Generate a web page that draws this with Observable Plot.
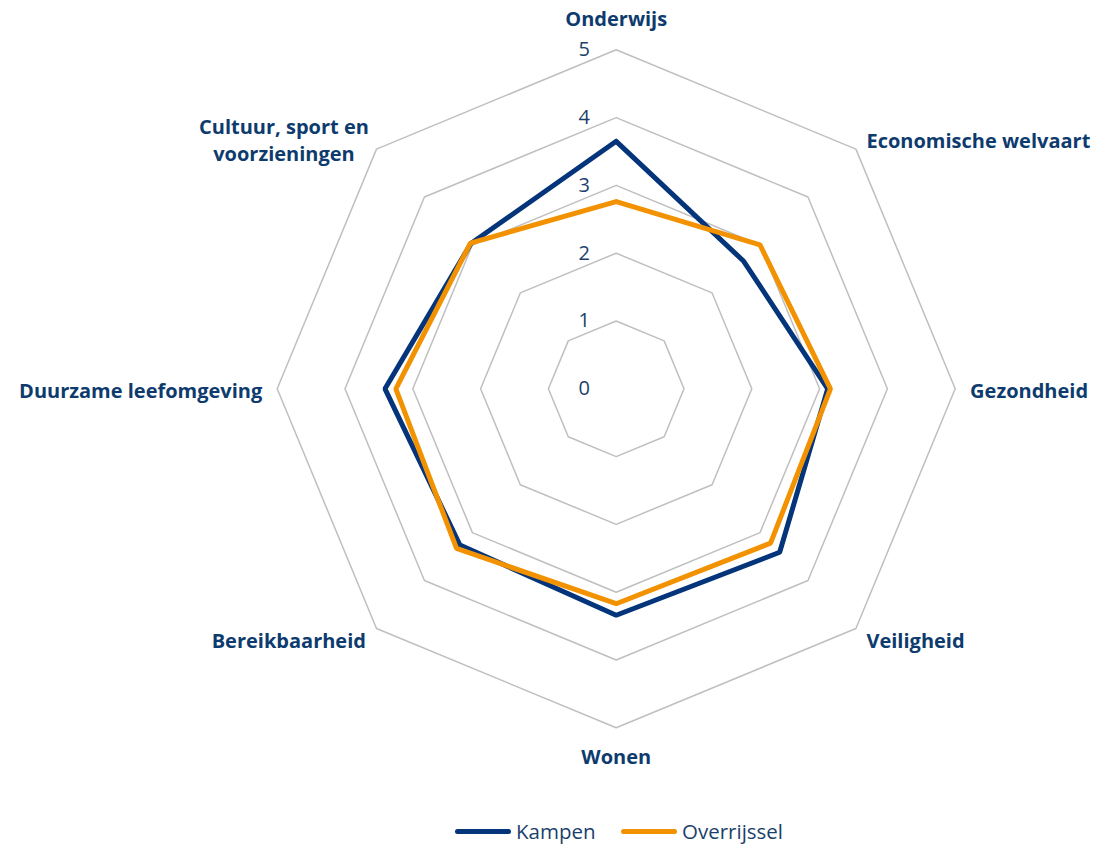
<!DOCTYPE html>
<html>
<head>
<meta charset="utf-8">
<script src="https://cdn.jsdelivr.net/npm/d3@7"></script>
<script src="https://cdn.jsdelivr.net/npm/@observablehq/plot@0.6"></script>
<style>
  body { margin: 0; background: #fff; font-family: "Open Sans", sans-serif; }
  #chart { width: 1113px; }
  .legend { display: flex; align-items: center; height: 50px; padding-left: 455px; font-size: 20.5px; color: #1b3f6b; }
  .legend .item { display: flex; align-items: center; width: 166px; }
  .legend .sw { display: inline-block; width: 56px; height: 5px; border-radius: 3px; margin-right: 5px; }
</style>
</head>
<body>
<div id="chart"></div>
<script>
const categories = ["Onderwijs", "Economische welvaart", "Gezondheid", "Veiligheid", "Wonen", "Bereikbaarheid", "Duurzame leefomgeving", "Cultuur, sport en\nvoorzieningen"];
const kampen = [3.65, 2.66, 3.12, 3.41, 3.34, 3.26, 3.41, 3.03];
const overijssel = [2.76, 3.00, 3.16, 3.22, 3.17, 3.33, 3.25, 3.04];
const seriesNames = ["Kampen", "Overrijssel"];
const seriesColors = ["#04347a", "#f39200"];
const tickValues = [0, 1, 2, 3, 4, 5];

const W = 1113, H = 806;
const cx = 615.7, cy = 388.3, unit = 67.8;
const n = categories.length;
const ang = i => (i / n) * 2 * Math.PI;
const px = (r, i) => r * Math.sin(ang(i));
const py = (r, i) => r * Math.cos(ang(i));

const rings = [];
for (const t of tickValues.slice(1)) {
  for (let i = 0; i <= n; i++) rings.push({ring: t, x: px(t, i % n), y: py(t, i % n)});
}
const seriesData = [];
[kampen, overijssel].forEach((vals, s) => {
  for (let i = 0; i <= n; i++) {
    const k = i % n;
    seriesData.push({series: seriesNames[s], x: px(vals[k], k), y: py(vals[k], k)});
  }
});
const labelInfo = categories.map((c, i) => {
  const s = Math.sin(ang(i)), co = Math.cos(ang(i));
  let anchor = "middle", r = 5.22;
  if (Math.abs(s) < 1e-6) r = co > 0 ? 5.48 : 5.40;
  else if (s > 0) anchor = "start";
  else anchor = "end";
  if (i === n - 1) anchor = "wrap";
  return {label: c, x: r * s, y: r * co, anchor};
});
const labelStyle = {x: "x", y: "y", text: "label", fontSize: 20, fontWeight: "bold", fill: "#0e3b6e", lineHeight: 1.4};

const plot = Plot.plot({
  width: W, height: H,
  margin: 0,
  x: {domain: [-cx / unit, (W - cx) / unit], axis: null},
  y: {domain: [-(H - cy) / unit, cy / unit], axis: null},
  style: {fontFamily: "'Open Sans', sans-serif", background: "white"},
  color: {domain: seriesNames, range: seriesColors},
  marks: [
    Plot.line(rings, {x: "x", y: "y", z: "ring", stroke: "#bfbfbf", strokeWidth: 1.5}),
    Plot.text(tickValues, {x: 0, y: d => d, text: d => String(d), dx: -32, fontSize: 20, fill: "#1b3f6b", textAnchor: "middle"}),
    Plot.line(seriesData, {x: "x", y: "y", z: "series", stroke: "series", strokeWidth: 5, strokeLinejoin: "miter"}),
    Plot.text(labelInfo.filter(d => d.anchor === "start"), {...labelStyle, textAnchor: "start"}),
    Plot.text(labelInfo.filter(d => d.anchor === "end"), {...labelStyle, textAnchor: "end"}),
    Plot.text(labelInfo.filter(d => d.anchor === "middle"), {...labelStyle, textAnchor: "middle"}),
    Plot.text(labelInfo.filter(d => d.anchor === "wrap"), {...labelStyle, textAnchor: "middle", dx: -82})
  ]
});
document.getElementById("chart").appendChild(plot);

const legend = document.createElement("div");
legend.className = "legend";
seriesNames.forEach((s, i) => {
  const it = document.createElement("div");
  it.className = "item";
  it.innerHTML = `<span class="sw" style="background:${seriesColors[i]}"></span><span>${s}</span>`;
  legend.appendChild(it);
});
document.body.appendChild(legend);
</script>
</body>
</html>
